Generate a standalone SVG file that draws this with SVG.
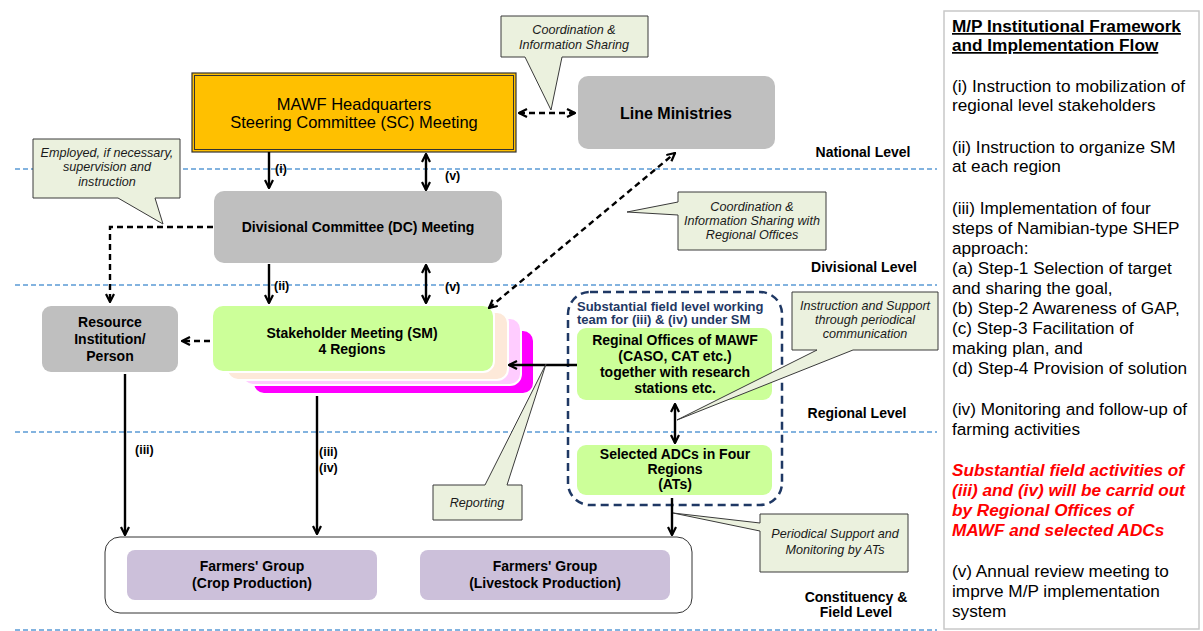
<svg xmlns="http://www.w3.org/2000/svg" width="1203" height="631" viewBox="0 0 1203 631">
  <style>
    text { font-family: "Liberation Sans", Arial, sans-serif; fill: #000; }
    .b { font-weight: bold; }
    .c { text-anchor: middle; }
    .call { fill: #ebf1de; stroke: #3a3a3a; stroke-width: 1; }
    .ct { font-style: italic; font-size: 12.6px; text-anchor: middle; fill: #1a1a1a; }
    .gray { fill: #bfbfbf; }
    .lvl { stroke: #5b9bd5; stroke-width: 1.6; stroke-dasharray: 5 3; fill: none; }
    .solid { stroke: #000; stroke-width: 2.4; fill: none; }
    .dash { stroke: #000; stroke-width: 2.4; fill: none; stroke-dasharray: 6 4; }
    .lbl { font-weight: bold; font-size: 12.5px; }
    .navy { font-weight: bold; font-size: 13px; fill: #1f3864; }
    .side { font-size: 17.2px; }
    .red { font-size: 17.2px; font-weight: bold; font-style: italic; fill: #ff0000; }
  </style>
  <defs>
    <marker id="ah" viewBox="0 0 10 10" refX="9" refY="5" markerWidth="10" markerHeight="10" markerUnits="userSpaceOnUse" orient="auto-start-reverse">
      <path d="M1,1 L9,5 L1,9" fill="none" stroke="#000" stroke-width="2.2"/>
    </marker>
  </defs>
  <rect width="1203" height="631" fill="#fff"/>

  <!-- level separators -->
  <g id="levels">
    <line class="lvl" x1="15" y1="169" x2="937" y2="169"/>
    <line class="lvl" x1="15" y1="285" x2="937" y2="285"/>
    <line class="lvl" x1="15" y1="432" x2="937" y2="432"/>
    <line class="lvl" x1="15" y1="630" x2="937" y2="630"/>
    <text class="b c" x="863" y="157" font-size="14">National Level</text>
    <text class="b c" x="864" y="272" font-size="14">Divisional Level</text>
    <text class="b c" x="857" y="418" font-size="14">Regional Level</text>
    <text class="b c" x="856" y="602" font-size="14">Constituency &amp;</text>
    <text class="b c" x="856" y="617" font-size="14">Field Level</text>
  </g>

  <!-- nodes -->
  <g id="mawf-hq">
    <rect x="192" y="73" width="324" height="79" fill="#ffc000" stroke="#333" stroke-width="1.2"/>
    <rect x="194.5" y="75.5" width="319" height="74" fill="none" stroke="#333" stroke-width="1"/>
    <text class="c" x="354" y="110" font-size="16.5">MAWF Headquarters</text>
    <text class="c" x="354" y="128" font-size="16.5">Steering Committee (SC) Meeting</text>
  </g>

  <g id="line-ministries">
    <rect class="gray" x="578" y="76" width="197" height="73" rx="10"/>
    <text class="b c" x="676" y="119" font-size="16">Line Ministries</text>
  </g>

  <g id="dc-meeting">
    <rect class="gray" x="214" y="191" width="288" height="72" rx="10"/>
    <text class="b c" x="358" y="232" font-size="14">Divisional Committee (DC) Meeting</text>
  </g>

  <g id="resource">
    <rect class="gray" x="42" y="306" width="136" height="66" rx="9"/>
    <text class="b c" x="110" y="327" font-size="14">Resource</text>
    <text class="b c" x="110" y="344" font-size="14">Institution/</text>
    <text class="b c" x="110" y="361" font-size="14">Person</text>
  </g>

  <g id="stakeholder-meeting">
    <rect x="253" y="330" width="281" height="64" rx="11" fill="#ff00ff" stroke="#fff" stroke-width="2"/>
    <rect x="242" y="318" width="279" height="67" rx="11" fill="#ffccff" stroke="#fff" stroke-width="2"/>
    <rect x="227" y="312" width="281" height="68" rx="11" fill="#fde9d9" stroke="#fff" stroke-width="2"/>
    <rect x="212" y="305" width="282" height="67" rx="11" fill="#ccff99" stroke="#fff" stroke-width="2"/>
    <text class="b c" x="352" y="338" font-size="14">Stakeholder Meeting (SM)</text>
    <text class="b c" x="352" y="354" font-size="14">4 Regions</text>
  </g>

  <g id="field-team">
    <rect x="568" y="292" width="214" height="213" rx="22" fill="none" stroke="#1f3864" stroke-width="2.5" stroke-dasharray="8 5"/>
    <text class="navy" x="577" y="311">Substantial field level working</text>
    <text class="navy" x="577" y="324">team for (iii) &amp; (iv) under SM</text>
  </g>

  <g id="regional-offices">
    <rect x="577" y="328" width="195" height="72" rx="9" fill="#ccff99"/>
    <text class="b c" x="675" y="345" font-size="14">Reginal Offices  of MAWF</text>
    <text class="b c" x="675" y="361" font-size="14">(CASO, CAT etc.)</text>
    <text class="b c" x="675" y="377" font-size="14">together with research</text>
    <text class="b c" x="675" y="393" font-size="14">stations etc.</text>
  </g>

  <g id="selected-adcs">
    <rect x="577" y="445" width="195" height="50" rx="9" fill="#ccff99"/>
    <text class="b c" x="675" y="459" font-size="14">Selected ADCs in Four</text>
    <text class="b c" x="675" y="474" font-size="14">Regions</text>
    <text class="b c" x="675" y="489" font-size="14">(ATs)</text>
  </g>

  <g id="farmers">
    <rect x="105" y="537" width="587" height="76" rx="15" fill="#fff" stroke="#333" stroke-width="1"/>
    <rect x="127" y="550" width="250" height="50" rx="8" fill="#ccc0da"/>
    <text class="b c" x="252" y="571" font-size="14">Farmers' Group</text>
    <text class="b c" x="252" y="588" font-size="14">(Crop Production)</text>
    <rect x="420" y="550" width="250" height="50" rx="8" fill="#ccc0da"/>
    <text class="b c" x="545" y="571" font-size="14">Farmers' Group</text>
    <text class="b c" x="545" y="588" font-size="14">(Livestock Production)</text>
  </g>

  <!-- connectors -->
  <g id="connectors">
    <line class="solid" x1="269" y1="152" x2="269" y2="188" marker-end="url(#ah)"/>
    <line class="solid" x1="426" y1="154" x2="426" y2="190" marker-start="url(#ah)" marker-end="url(#ah)"/>
    <line class="solid" x1="269" y1="264" x2="269" y2="303" marker-end="url(#ah)"/>
    <line class="solid" x1="426" y1="265" x2="426" y2="303" marker-start="url(#ah)" marker-end="url(#ah)"/>
    <line class="dash" x1="519" y1="113" x2="575" y2="113" marker-start="url(#ah)" marker-end="url(#ah)"/>
    <line class="dash" x1="489" y1="308" x2="675" y2="153" marker-start="url(#ah)" marker-end="url(#ah)"/>
    <path class="dash" d="M213,227 H110 V302" marker-end="url(#ah)"/>
    <line class="dash" x1="210" y1="341" x2="182" y2="341" marker-end="url(#ah)"/>
    <line class="solid" x1="577" y1="365" x2="509" y2="365" marker-end="url(#ah)"/>
    <line class="solid" x1="675" y1="404" x2="675" y2="443" marker-start="url(#ah)" marker-end="url(#ah)"/>
    <line class="solid" x1="125" y1="374" x2="125" y2="535" marker-end="url(#ah)"/>
    <line class="solid" x1="317" y1="396" x2="317" y2="534" marker-end="url(#ah)"/>
    <line class="solid" x1="672" y1="498" x2="672" y2="535" marker-end="url(#ah)"/>
    <text class="lbl" x="275" y="173">(i)</text>
    <text class="lbl" x="445" y="180">(v)</text>
    <text class="lbl" x="274" y="290">(ii)</text>
    <text class="lbl" x="445" y="291">(v)</text>
    <text class="lbl" x="135" y="454">(iii)</text>
    <text class="lbl" x="319" y="456">(iii)</text>
    <text class="lbl" x="319" y="472">(iv)</text>
  </g>

  <!-- callouts -->
  <g id="callout-coordination">
    <path class="call" d="M501,16 H648 V57 H562 L551,110 L525,57 H501 Z"/>
    <text class="ct" x="574" y="34">Coordination &amp;</text>
    <text class="ct" x="574" y="49">Information Sharing</text>
  </g>
  <g id="callout-employed">
    <path class="call" d="M33,139 H180 V198 H155 L163,224 L118,198 H33 Z"/>
    <text class="ct" x="107" y="157">Employed, if necessary,</text>
    <text class="ct" x="107" y="171">supervision and</text>
    <text class="ct" x="107" y="186">instruction</text>
  </g>
  <g id="callout-regional-coordination">
    <path class="call" d="M678,192 H826 V250 H678 V215 L627,212 L678,202 Z"/>
    <text class="ct" x="752" y="211">Coordination &amp;</text>
    <text class="ct" x="752" y="225">Information Sharing with</text>
    <text class="ct" x="752" y="239">Regional Offices</text>
  </g>
  <g id="callout-instruction">
    <path class="call" d="M792,292 H938 V350 H853 L677,420 L817,350 H792 Z"/>
    <text class="ct" x="865" y="310">Instruction and Support</text>
    <text class="ct" x="865" y="324">through periodical</text>
    <text class="ct" x="865" y="338">communication</text>
  </g>
  <g id="callout-reporting">
    <path class="call" d="M433,485 H485 L546,364 L507,485 H522 V520 H433 Z"/>
    <text class="ct" x="477" y="507">Reporting</text>
  </g>
  <g id="callout-periodical">
    <path class="call" d="M760,514 H908 V572 H760 V531 L673,513 L760,523 Z"/>
    <text class="ct" x="835" y="538">Periodical Support and</text>
    <text class="ct" x="835" y="554">Monitoring by ATs</text>
  </g>

  <!-- side panel -->
  <g id="side-panel">
    <rect x="944" y="11" width="255" height="618" fill="#fff" stroke="#c8c8c8" stroke-width="1.5"/>
    <text class="side b" x="952" y="32" text-decoration="underline">M/P Institutional Framework</text>
    <text class="side b" x="952" y="51" text-decoration="underline">and Implementation Flow</text>
    <text class="side" x="952" y="92">(i) Instruction to mobilization of</text>
    <text class="side" x="952" y="111">regional level stakeholders</text>
    <text class="side" x="952" y="153">(ii) Instruction to organize SM</text>
    <text class="side" x="952" y="172">at each region</text>
    <text class="side" x="952" y="214">(iii) Implementation of four</text>
    <text class="side" x="952" y="234">steps of Namibian-type SHEP</text>
    <text class="side" x="952" y="254">approach:</text>
    <text class="side" x="952" y="274">(a) Step-1 Selection of target</text>
    <text class="side" x="952" y="294">and sharing the goal,</text>
    <text class="side" x="952" y="314">(b) Step-2 Awareness of GAP,</text>
    <text class="side" x="952" y="334">(c) Step-3 Facilitation of</text>
    <text class="side" x="952" y="354">making plan, and</text>
    <text class="side" x="952" y="374">(d) Step-4 Provision of solution</text>
    <text class="side" x="952" y="415">(iv) Monitoring and follow-up of</text>
    <text class="side" x="952" y="435">farming activities</text>
    <text class="red" x="952" y="476">Substantial field activities of</text>
    <text class="red" x="952" y="496">(iii) and (iv) will be carrid out</text>
    <text class="red" x="952" y="516">by Regional Offices of</text>
    <text class="red" x="952" y="536">MAWF and selected ADCs</text>
    <text class="side" x="952" y="577">(v) Annual review meeting to</text>
    <text class="side" x="952" y="597">imprve M/P implementation</text>
    <text class="side" x="952" y="617">system</text>
  </g>
</svg>
